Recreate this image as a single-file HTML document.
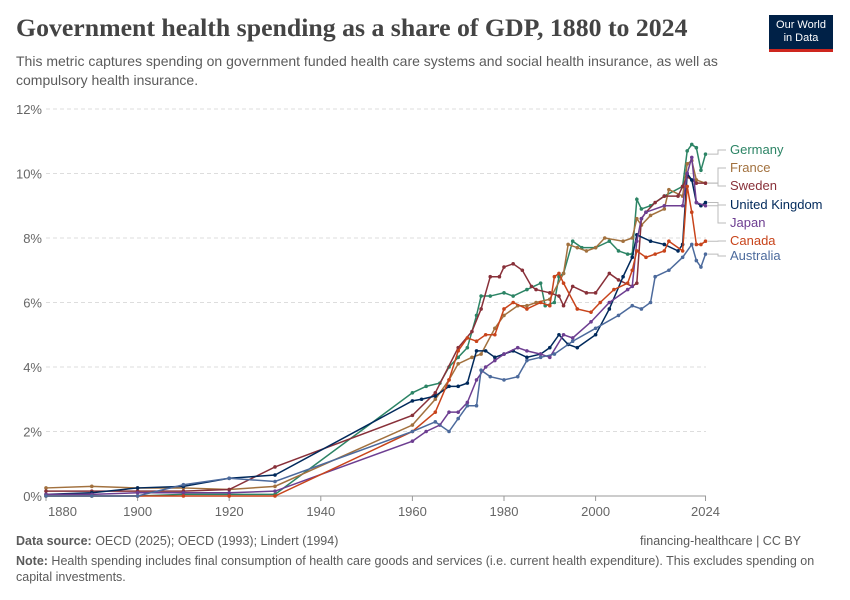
<!DOCTYPE html><html><head><meta charset="utf-8"><style>
body{margin:0;background:#fff;width:850px;height:600px;overflow:hidden;font-family:"Liberation Sans",sans-serif}
.t{position:absolute;left:16px;top:13px;font:bold 25.8px "Liberation Serif",serif;color:#444}
.s{position:absolute;left:16px;top:52px;font-size:14px;color:#5b5b5b;line-height:19px;width:730px}
.logo{position:absolute;left:769px;top:15px;width:64px;height:37px;background:#002147;color:#fff;font-size:11px;line-height:13px;text-align:center;padding-top:4px;box-sizing:border-box;border-bottom:3px solid #ce261e}
.f{position:absolute;left:16px;font-size:12.5px;color:#5b5b5b;line-height:16px}
</style></head><body>
<div class="t">Government health spending as a share of GDP, 1880 to 2024</div>
<div class="s">This metric captures spending on government funded health care systems and social health insurance, as well as compulsory health insurance.</div>
<div class="logo">Our World<br>in Data</div>
<svg id="c" width="850" height="600" style="position:absolute;left:0;top:0"></svg>
<div class="f" style="top:533px"><b>Data source:</b> OECD (2025); OECD (1993); Lindert (1994)</div>
<div class="f" style="top:533px;left:auto;right:49px">financing-healthcare | CC BY</div>
<div class="f" style="top:553px;width:800px"><b>Note:</b> Health spending includes final consumption of health care goods and services (i.e. current health expenditure). This excludes spending on capital investments.</div>
<script>
const X=y=>46+(y-1880)*4.58, Y=v=>496-v*32.25;
let s='';
for(let i=0;i<=6;i++){let y=Y(i*2);s+=`<line x1="46" x2="706" y1="${y}" y2="${y}" stroke="${i?'#ddd':'#999'}" stroke-dasharray="${i?'4,3':''}"/>`;s+=`<text x="42" y="${y+5}" text-anchor="end" font-size="13" fill="#666">${i*2}%</text>`;}
[1880,1900,1920,1940,1960,1980,2000,2024].forEach(y=>{s+=`<text x="${y==1880?48:X(y)}" y="516" text-anchor="${y==1880?'start':'middle'}" font-size="13" fill="#666">${y}</text>`;s+=`<line x1="${X(y)}" x2="${X(y)}" y1="496" y2="501" stroke="#999"/>`});
const D={
Germany:['#2c8465',[1880,0,1890,0,1900,0,1910,0.05,1920,0.05,1930,0.05,1960,3.2,1963,3.4,1966,3.5,1968,4.0,1970,4.3,1972,4.6,1974,5.6,1975,6.2,1977,6.2,1980,6.3,1982,6.2,1985,6.4,1988,6.6,1989,5.9,1991,6.0,1992,6.8,1993,6.9,1995,7.9,1997,7.7,2000,7.7,2003,7.9,2005,7.6,2007,7.5,2008,7.5,2009,9.2,2010,8.9,2012,9.0,2015,9.3,2019,9.6,2020,10.7,2021,10.9,2022,10.8,2023,10.1,2024,10.6],154],
France:['#a2713e',[1880,0.25,1890,0.3,1900,0.25,1910,0.25,1920,0.2,1930,0.3,1960,2.2,1965,3.0,1968,3.6,1970,4.1,1973,4.3,1975,4.4,1978,5.2,1980,5.6,1983,5.9,1985,5.9,1987,6.0,1990,6.1,1993,6.9,1994,7.8,1996,7.7,1998,7.6,2000,7.7,2002,8.0,2006,7.9,2008,8.0,2009,8.6,2010,8.4,2012,8.7,2015,8.9,2016,9.5,2019,9.3,2020,10.3,2021,10.4,2022,9.8,2024,9.7],172],
Sweden:['#883039',[1880,0.15,1890,0.15,1900,0.15,1910,0.15,1920,0.2,1930,0.9,1960,2.5,1965,3.2,1970,4.6,1973,5.1,1975,5.8,1977,6.8,1979,6.8,1980,7.1,1982,7.2,1984,7.0,1986,6.5,1987,6.4,1990,6.3,1992,6.2,1993,5.9,1995,6.5,1998,6.3,2000,6.3,2003,6.9,2005,6.7,2008,6.5,2009,6.6,2010,8.6,2011,8.8,2013,9.1,2015,9.3,2018,9.3,2019,9.6,2020,9.9,2022,9.7,2024,9.7],190],
'United Kingdom':['#00295b',[1880,0.05,1890,0.1,1900,0.25,1910,0.3,1920,0.55,1930,0.65,1960,2.95,1962,3.0,1965,3.1,1968,3.4,1970,3.4,1972,3.5,1974,4.5,1976,4.5,1978,4.3,1980,4.4,1982,4.5,1985,4.3,1988,4.4,1990,4.6,1992,5.0,1994,4.7,1996,4.6,2000,5.0,2003,5.8,2006,6.8,2008,7.4,2009,8.1,2012,7.9,2015,7.8,2018,7.6,2019,7.8,2020,10.0,2021,9.8,2022,9.1,2023,9.0,2024,9.1],209],
Japan:['#6d3e91',[1880,0.05,1890,0.05,1900,0.1,1910,0.1,1920,0.1,1930,0.15,1960,1.7,1963,2.0,1966,2.2,1968,2.6,1970,2.6,1972,2.9,1974,3.6,1976,4.0,1978,4.2,1980,4.4,1983,4.6,1985,4.5,1988,4.4,1990,4.3,1993,5.0,1995,4.9,1999,5.4,2003,6.0,2007,6.4,2008,6.5,2009,7.9,2010,8.6,2011,8.8,2015,9.0,2019,9.0,2020,10.0,2021,10.5,2022,9.1,2024,9.0],227],
Canada:['#c8441b',[1880,0,1890,0,1900,0,1910,0,1920,0,1930,0,1960,2.0,1965,2.6,1968,3.6,1970,4.5,1972,4.9,1974,4.8,1976,5.0,1978,5.0,1980,5.8,1982,6.0,1985,5.8,1988,6.0,1990,5.9,1991,6.8,1992,6.9,1993,6.6,1996,5.8,1999,5.7,2001,6.0,2004,6.4,2007,6.6,2008,7.0,2009,7.6,2011,7.4,2013,7.5,2015,7.6,2016,7.9,2019,7.6,2020,9.6,2021,8.8,2022,7.8,2023,7.8,2024,7.9],245],
Australia:['#4c6a9c',[1880,0,1890,0,1900,0,1910,0.35,1920,0.55,1930,0.45,1960,2.0,1965,2.3,1968,2.0,1970,2.4,1972,2.8,1974,2.8,1975,3.9,1977,3.7,1980,3.6,1983,3.7,1985,4.2,1988,4.3,1991,4.4,1995,4.8,2000,5.2,2005,5.6,2008,5.9,2010,5.8,2012,6.0,2013,6.8,2016,7.0,2019,7.4,2021,7.8,2022,7.3,2023,7.1,2024,7.5],260]};
for(const k in D){const [c,a,ly]=D[k];let p=[];for(let i=0;i<a.length;i+=2)p.push([X(a[i]),Y(a[i+1])]);
s+=`<polyline fill="none" stroke="${c}" stroke-width="1.5" points="${p.map(q=>q.join(',')).join(' ')}"/>`;
p.forEach(q=>s+=`<circle cx="${q[0]}" cy="${q[1]}" r="1.8" fill="${c}"/>`);
const ey=p[p.length-1][1];s+=`<polyline fill="none" stroke="#bbb" points="708,${ey} 718,${ey} 718,${ly-4} 726,${ly-4}"/>`;
s+=`<text x="730" y="${ly}" font-size="13" fill="${c}">${k}</text>`;}
document.getElementById('c').innerHTML=s;
</script>
</body></html>
